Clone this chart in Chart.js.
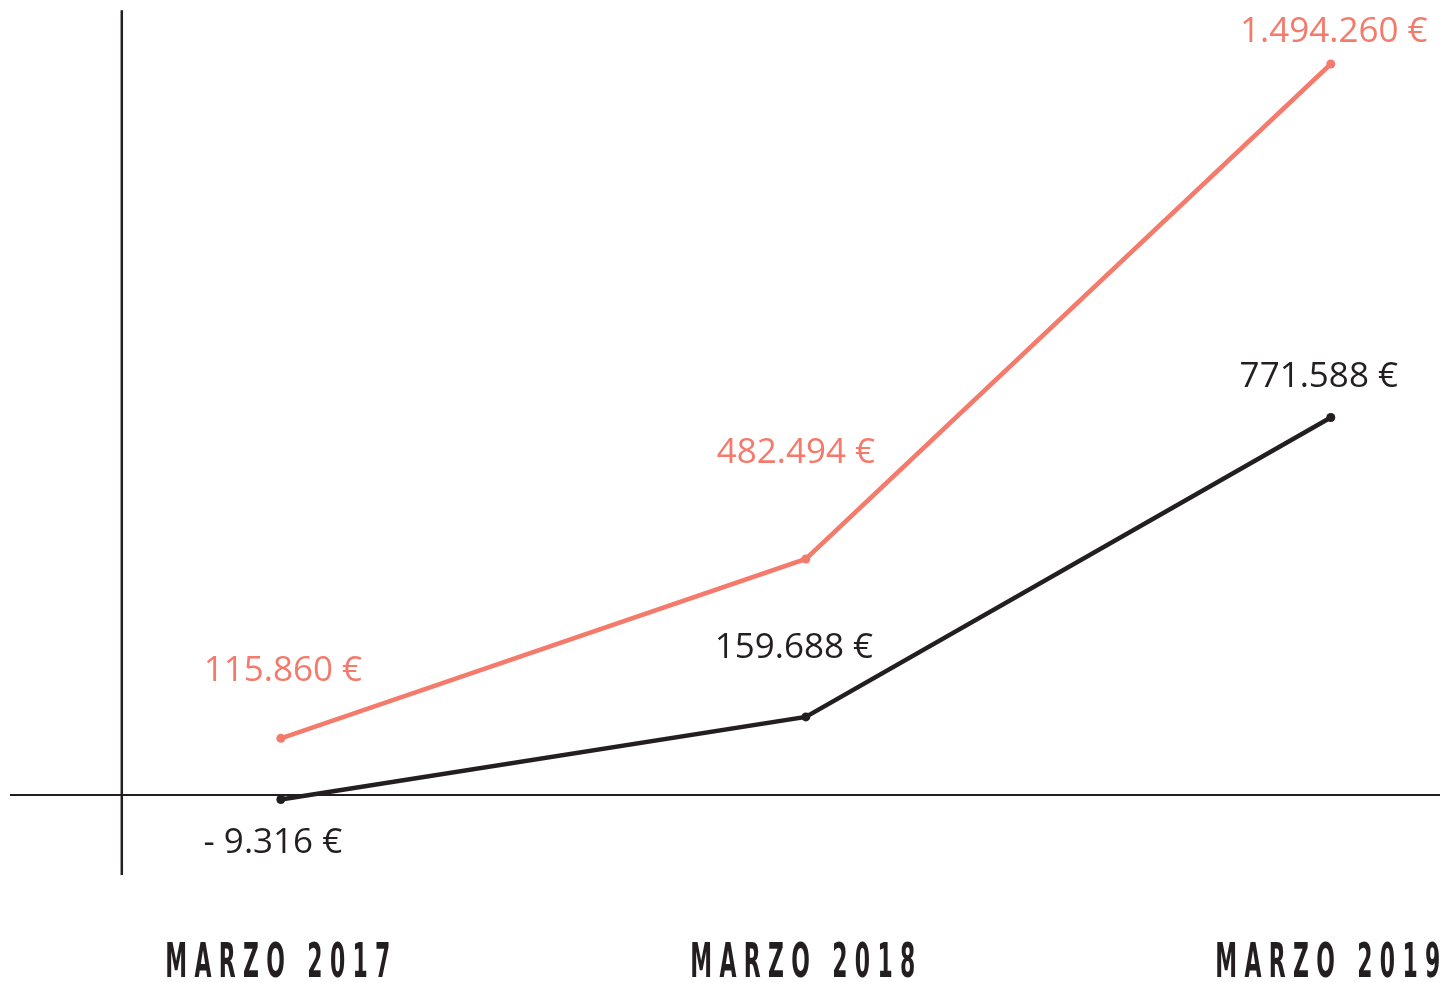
<!DOCTYPE html>
<html>
<head>
<meta charset="utf-8">
<script src="https://cdn.jsdelivr.net/npm/chart.js@4.4.0/dist/chart.umd.min.js"></script>
<style>
  html, body { margin: 0; padding: 0; background: #fff; }
  #wrap { width: 1440px; height: 982px; position: relative; }
</style>
</head>
<body>
<div id="wrap"><canvas id="chart"></canvas></div>
<script>
// Datos
const categories = ['MARZO 2017', 'MARZO 2018', 'MARZO 2019'];
const serieRoja = [115860, 482494, 1494260];
const serieNegra = [-9316, 159688, 771588];
const etiquetasRoja = ['115.860 €', '482.494 €', '1.494.260 €'];
const etiquetasNegra = ['- 9.316 €', '159.688 €', '771.588 €'];

const ROJO = '#f47a6c';
const NEGRO = '#231f20';

// desplazamiento de las etiquetas respecto al punto (px)
const offsetsRoja = [[2, -67], [-10, -106], [3, -32]];
const offsetsNegra = [[-8, 43], [-12, -69], [-12, -41]];
const ANCHO_CATEGORIA = 225; // ancho del rótulo condensado

// Ejes dibujados a mano (cruz en el origen)
const ejesPlugin = {
  id: 'ejes',
  beforeDatasetsDraw(chart) {
    const { ctx, scales: { x, y } } = chart;
    ctx.save();
    ctx.strokeStyle = NEGRO;
    ctx.lineWidth = 2.5;
    // vertical
    ctx.beginPath();
    ctx.moveTo(x.getPixelForValue(-0.303), y.getPixelForValue(1604000));
    ctx.lineTo(x.getPixelForValue(-0.303), y.getPixelForValue(-163500));
    ctx.stroke();
    // horizontal en cero
    ctx.lineWidth = 2;
    ctx.beginPath();
    ctx.moveTo(x.getPixelForValue(-0.516), y.getPixelForValue(0));
    ctx.lineTo(x.right, y.getPixelForValue(0));
    ctx.stroke();
    ctx.restore();
  }
};

// Etiquetas de valores y categorías
const etiquetasPlugin = {
  id: 'etiquetas',
  afterDatasetsDraw(chart) {
    const { ctx, scales: { x, y } } = chart;
    ctx.save();
    ctx.textAlign = 'center';
    ctx.textBaseline = 'middle';
    ctx.font = '35px "Open Sans"';
    const series = [
      [serieRoja, etiquetasRoja, offsetsRoja, ROJO],
      [serieNegra, etiquetasNegra, offsetsNegra, NEGRO]
    ];
    series.forEach(([vals, labels, offs, color]) => {
      ctx.fillStyle = color;
      vals.forEach((v, i) => {
        ctx.fillText(labels[i], x.getPixelForValue(i) + offs[i][0], y.getPixelForValue(v) + offs[i][1]);
      });
    });
    ctx.restore();

    // categorías (fuente condensada simulada con escala horizontal)
    ctx.save();
    ctx.fillStyle = NEGRO;
    ctx.font = 'bold 48px "DejaVu Sans", sans-serif';
    ctx.letterSpacing = '16px';
    ctx.textAlign = 'center';
    ctx.textBaseline = 'alphabetic';
    categories.forEach((c, i) => {
      const w = ctx.measureText(c).width - 16;
      const sx = ANCHO_CATEGORIA / w;
      const cx = x.getPixelForValue(i) - 3;
      ctx.save();
      ctx.translate(cx, 977);
      ctx.scale(sx, 1);
      ctx.fillText(c, 8, 0);
      ctx.restore();
    });
    ctx.restore();
  }
};

const ctx = document.getElementById('chart').getContext('2d');
new Chart(ctx, {
  type: 'line',
  data: {
    datasets: [{
      data: serieRoja.map((v, i) => ({ x: i, y: v })),
      borderColor: ROJO,
      backgroundColor: ROJO,
      borderWidth: 4.5,
      pointRadius: 4.5,
      pointBorderWidth: 0,
      tension: 0
    }, {
      data: serieNegra.map((v, i) => ({ x: i, y: v })),
      borderColor: NEGRO,
      backgroundColor: NEGRO,
      borderWidth: 4.5,
      pointRadius: 4.5,
      pointBorderWidth: 0,
      tension: 0
    }]
  },
  options: {
    responsive: true,
    maintainAspectRatio: false,
    animation: false,
    clip: false,
    layout: { padding: 0, autoPadding: false },
    plugins: {
      legend: { display: false },
      tooltip: { enabled: false }
    },
    scales: {
      x: { type: 'linear', display: false, min: -0.535, max: 2.208 },
      y: { display: false, min: -382260, max: 1625100 }
    }
  },
  plugins: [ejesPlugin, etiquetasPlugin]
});
</script>
</body>
</html>
